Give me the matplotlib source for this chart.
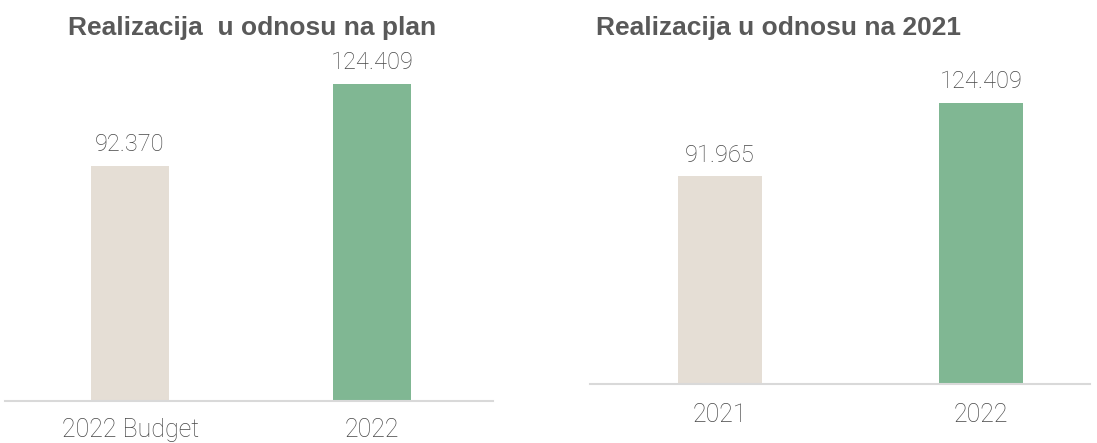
import matplotlib
matplotlib.use("Agg")
import matplotlib.pyplot as plt
from matplotlib import font_manager

left_categories = ["2022 Budget", "2022"]
left_values = [92.370, 124.409]
left_labels = ["92.370", "124.409"]
left_title = "Realizacija  u odnosu na plan"

right_categories = ["2021", "2022"]
right_values = [91.965, 124.409]
right_labels = ["91.965", "124.409"]
right_title = "Realizacija u odnosu na 2021"

bar_colors = ["#E5DED5", "#80B793"]
text_color = "#595959"
num_color = "#474747"
axis_color = "#D9D9D9"

W, H = 1097, 443
fig = plt.figure(figsize=(W / 100, H / 100), dpi=100)

names = {f.name for f in font_manager.fontManager.ttflist}
light_font = "Roboto" if "Roboto" in names else "DejaVu Sans"
title_font = "Liberation Sans" if "Liberation Sans" in names else "DejaVu Sans"


def px_axes(x0, x1, ybot, ytop):
    return fig.add_axes([x0 / W, 1 - ybot / H, (x1 - x0) / W, (ybot - ytop) / H])


def draw(ax, cats, vals, labels, xlim, ylim, label_pad):
    xs = list(range(len(cats)))
    ax.bar(xs, vals, width=0.32, color=bar_colors, zorder=2)
    ax.set_xlim(*xlim)
    ax.set_ylim(*ylim)
    for s in ["top", "right", "left"]:
        ax.spines[s].set_visible(False)
    ax.spines["bottom"].set_color(axis_color)
    ax.spines["bottom"].set_linewidth(1.5)
    ax.set_yticks([])
    ax.set_xticks(xs)
    ax.set_xticklabels(cats, fontsize=18, color=num_color, family=light_font, fontweight="light")
    ax.tick_params(axis="x", length=0, pad=label_pad)
    for x, v, lab in zip(xs, vals, labels):
        ax.annotate(lab, (x, v), xytext=(0, 7), textcoords="offset points",
                    ha="center", va="bottom", fontsize=17, color=num_color,
                    family=light_font, fontweight="light")


ax1 = px_axes(5, 493, 401, 60)
draw(ax1, left_categories, left_values, left_labels, (-0.517, 1.5), (0, 341 / 2.548), 12)

ax2 = px_axes(590, 1090, 384, 60)
draw(ax2, right_categories, right_values, right_labels, (-0.498, 1.418), (0, 324 / 2.259), 13.5)

fig.text(252 / W, 1 - 28 / H, left_title, ha="center", va="center", fontsize=19,
         fontweight="bold", color=text_color, family=title_font)
fig.text(779 / W, 1 - 28 / H, right_title, ha="center", va="center", fontsize=19,
         fontweight="bold", color=text_color, family=title_font)

fig.savefig("out.png", dpi=100, facecolor="white")
